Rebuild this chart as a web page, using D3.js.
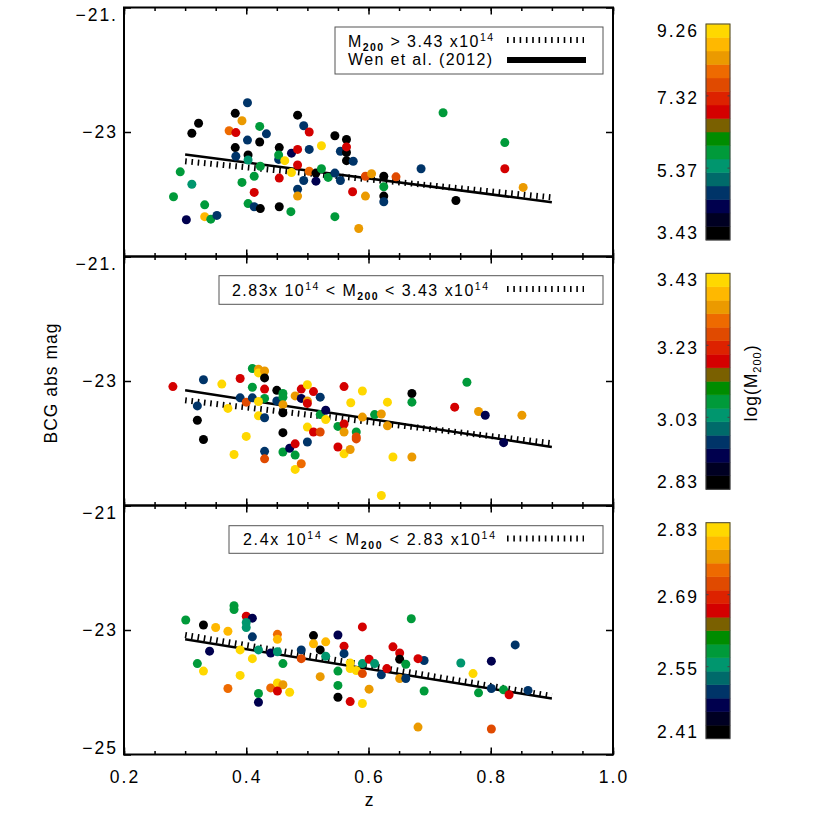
<!DOCTYPE html>
<html>
<head>
<meta charset="utf-8">
<script src="https://cdnjs.cloudflare.com/ajax/libs/d3/7.8.5/d3.min.js"></script>
<style>
  html, body { margin: 0; padding: 0; background: #fff; }
  svg { display: block; font-family: "Liberation Sans", Arial, Helvetica, sans-serif; }
</style>
</head>
<body>
<div id="chart"></div>
<script>
// ---- data ----
// top panel: M200 > 3.43
var z1 = [0.302,0.292,0.281,0.311,0.322,0.311,0.332,0.332,0.342,0.352,
          0.372,0.383,0.382,0.393,0.402,0.382,0.383,0.402,0.403,0.403,
          0.393,0.413,0.423,0.422,0.433,0.422,0.413,0.403,0.413,0.423,
          0.454,0.453,0.453,0.454,0.454,0.473,0.463,0.474,0.474,0.484,
          0.484,0.484,0.484,0.484,0.494,0.503,0.503,0.494,0.503,0.514,
          0.514,0.523,0.523,0.534,0.545,0.545,0.545,0.554,0.554,0.564,
          0.564,0.564,0.564,0.575,0.574,0.584,0.595,0.595,0.605,0.625,
          0.625,0.625,0.625,0.645,0.686,0.722,0.743,0.823,0.823,0.853];
var mag1 = [-24.41,-23.64,-24.04,-23.02,-22.86,-23.84,-24.17,-24.36,-24.40,-24.34,
            -22.98,-23.01,-22.70,-22.82,-22.53,-23.25,-23.39,-23.13,-23.37,-23.45,
            -23.81,-23.71,-23.55,-22.91,-23.03,-23.16,-23.97,-24.15,-24.20,-24.23,
            -23.25,-23.44,-23.37,-23.74,-24.20,-24.28,-23.46,-23.34,-23.65,-22.73,
            -23.28,-23.53,-23.92,-24.03,-22.90,-23.00,-23.28,-23.78,-23.63,-23.66,
            -23.79,-23.22,-23.59,-23.73,-23.06,-23.66,-24.36,-23.31,-23.78,-23.12,
            -23.33,-23.46,-23.24,-23.47,-23.96,-24.55,-23.71,-24.03,-23.67,-23.71,
            -23.88,-24.03,-24.12,-23.72,-23.59,-22.69,-24.10,-23.17,-23.59,-23.89];
var mass1 = [4.34,5.80,5.80,3.61,3.61,5.43,5.80,8.72,5.80,4.70,
             7.99,6.89,3.61,8.35,4.70,3.61,4.70,4.70,3.61,5.43,
             5.80,5.80,5.80,5.80,4.70,3.61,6.89,5.80,4.70,3.61,
             3.61,4.70,5.80,6.89,3.61,5.80,9.08,4.34,9.08,3.61,
             6.89,6.89,4.70,8.35,4.70,6.89,4.70,4.70,7.99,3.61,
             4.34,9.08,5.80,5.80,3.61,4.70,5.80,4.70,4.70,3.61,
             3.61,3.61,6.89,4.70,6.89,8.35,7.62,8.35,8.35,3.61,
             5.80,3.61,4.70,7.62,4.70,5.80,3.61,5.80,6.89,8.35];

// middle panel: 2.83 < M200 < 3.43
var z2 = [0.280,0.330,0.320,0.320,0.330,0.360,0.370,0.380,0.390,0.390,
          0.400,0.400,0.410,0.410,0.410,0.420,0.420,0.430,0.430,0.430,
          0.430,0.420,0.420,0.430,0.430,0.430,0.450,0.450,0.460,0.460,
          0.460,0.460,0.460,0.460,0.471,0.480,0.480,0.480,0.490,0.480,
          0.490,0.490,0.500,0.500,0.500,0.510,0.521,0.500,0.510,0.521,
          0.500,0.521,0.530,0.530,0.550,0.560,0.560,0.560,0.550,0.560,
          0.570,0.571,0.580,0.580,0.580,0.590,0.590,0.610,0.621,0.631,
          0.631,0.621,0.640,0.671,0.671,0.671,0.741,0.761,0.780,0.791,0.821,0.851];
var mag2 = [-23.09,-22.98,-23.40,-23.63,-23.94,-23.05,-23.44,-24.18,-22.96,-23.27,
            -23.34,-23.89,-22.80,-23.10,-23.27,-22.81,-22.87,-22.84,-22.95,-23.13,
            -23.28,-23.33,-23.56,-23.59,-24.13,-24.25,-23.15,-23.32,-23.20,-23.26,
            -23.38,-23.51,-23.83,-24.14,-24.08,-24.01,-24.19,-24.42,-24.33,-23.24,
            -23.13,-23.28,-23.06,-23.32,-23.36,-23.17,-23.26,-23.74,-23.82,-23.82,
            -23.98,-23.54,-23.47,-23.62,-23.73,-23.09,-23.69,-23.82,-24.06,-24.17,
            -24.10,-23.35,-23.82,-23.90,-23.93,-23.16,-23.58,-23.54,-23.53,-23.34,
            -23.72,-24.84,-24.22,-23.20,-23.34,-24.22,-23.42,-23.02,-23.49,-23.55,-23.99,-23.55];
var mass2 = [3.19,2.96,2.96,2.85,2.85,3.41,3.41,3.41,3.19,2.96,
             3.26,3.41,3.07,3.07,2.96,3.33,3.41,3.33,2.85,3.19,
             3.07,3.41,3.41,2.96,2.96,3.26,2.85,2.96,3.07,3.07,
             3.33,2.85,2.85,3.07,2.92,3.19,3.07,3.41,3.30,3.33,
             3.19,2.92,3.41,3.33,3.19,3.19,2.96,3.41,3.19,3.26,
             2.96,3.07,2.92,3.41,3.07,3.19,3.19,3.33,3.19,3.41,
             3.33,3.41,3.07,3.26,3.26,3.41,3.33,3.07,3.33,3.41,
             3.33,3.41,3.41,2.85,3.07,3.33,3.19,3.07,3.33,2.92,2.92,3.33];

// bottom panel: 2.4 < M200 < 2.83
var z3 = [0.301,0.330,0.320,0.330,0.340,0.350,0.370,0.370,0.380,0.380,
          0.390,0.390,0.400,0.410,0.400,0.400,0.410,0.410,0.420,0.420,
          0.420,0.440,0.440,0.451,0.451,0.451,0.451,0.460,0.451,0.460,
          0.471,0.490,0.490,0.510,0.510,0.521,0.530,0.530,0.521,0.550,
          0.560,0.560,0.550,0.550,0.550,0.570,0.570,0.580,0.570,0.590,
          0.590,0.590,0.590,0.601,0.601,0.610,0.621,0.630,0.640,0.651,
          0.651,0.651,0.661,0.661,0.670,0.691,0.681,0.691,0.681,0.751,
          0.771,0.780,0.801,0.801,0.801,0.821,0.830,0.840,0.861];
var mag3 = [-22.84,-22.92,-23.54,-23.66,-23.34,-22.96,-23.02,-23.94,-22.61,-22.67,
            -23.32,-23.73,-22.78,-22.81,-22.88,-22.96,-23.11,-23.46,-23.32,-24.02,
            -24.16,-23.37,-23.93,-23.07,-23.15,-23.35,-23.85,-23.88,-23.98,-23.54,
            -24.00,-23.32,-23.46,-23.09,-23.22,-23.32,-23.19,-23.42,-23.75,-23.08,
            -23.26,-23.38,-23.66,-23.89,-24.08,-23.53,-23.62,-23.65,-24.15,-22.95,
            -23.54,-23.70,-24.18,-23.47,-23.95,-23.54,-23.72,-23.62,-23.27,-23.37,
            -23.47,-23.78,-23.55,-23.78,-22.82,-23.49,-23.46,-23.98,-24.56,-23.53,
            -23.70,-24.01,-23.50,-23.94,-24.59,-23.96,-24.04,-23.24,-23.97];
var mass3 = [2.58,2.42,2.58,2.82,2.48,2.79,2.79,2.74,2.58,2.58,
             2.82,2.82,2.66,2.48,2.55,2.55,2.50,2.82,2.55,2.58,
             2.48,2.48,2.74,2.74,2.79,2.55,2.82,2.76,2.66,2.58,
             2.82,2.50,2.71,2.42,2.79,2.42,2.79,2.55,2.76,2.48,
             2.66,2.50,2.58,2.58,2.42,2.82,2.82,2.82,2.66,2.66,
             2.55,2.71,2.82,2.66,2.76,2.55,2.50,2.66,2.66,2.66,
             2.42,2.76,2.58,2.50,2.58,2.50,2.66,2.58,2.76,2.55,
             2.82,2.58,2.48,2.50,2.71,2.58,2.66,2.50,2.50];

// fitted relations, end points at z = 0.3 and 0.9
var fitZ = [0.3, 0.9];
var fit1 = [-23.47, -24.05], wen1 = [-23.36, -24.13];
var fit2 = [-23.31, -24.00], wen2 = [-23.15, -24.06];
var fit3 = [-23.08, -24.06], wen3 = [-23.15, -24.10];

// colour bar ranges and tick labels
var range1 = [3.43, 9.26], cbTicks1 = [3.43, 5.37, 7.32, 9.26];
var range2 = [2.83, 3.43], cbTicks2 = [2.83, 3.03, 3.23, 3.43];
var range3 = [2.41, 2.83], cbTicks3 = [2.41, 2.55, 2.69, 2.83];

// axis ticks and labels
var magTicks = [-21, -23, -25];
var magLabels1 = ["\u221221.", "\u221223", ""];
var magLabels2 = ["\u221221.", "\u221223", ""];
var magLabels3 = ["\u221221", "\u221223", "\u221225"];
var zMajor = [0.2, 0.4, 0.6, 0.8, 1.0];
var zMinor = [0.2,0.25,0.3,0.35,0.4,0.45,0.5,0.55,0.6,0.65,0.7,0.75,0.8,0.85,0.9,0.95,1.0];

// legend labels: [text, "", "sub" or "sup"]
var legend1 = [[["M",""],["200","sub"],[" > 3.43 x10",""],["14","sup"]],
               [["Wen et al. (2012)",""]]];
var legend2 = [[["2.83x 10",""],["14","sup"],[" < M",""],["200","sub"],[" < 3.43 x10",""],["14","sup"]]];
var legend3 = [[["2.4x 10",""],["14","sup"],[" < M",""],["200","sub"],[" < 2.83 x10",""],["14","sup"]]];

// 16 step colour table (bottom to top of the bar)
var bandColors = ["#000000","#000022","#00004e","#003468","#006a6a","#00966e","#009a3a","#008c00",
                  "#7a6000","#d40000","#dd2200","#e04a00","#ee6a00","#eb9a00","#ffb800","#ffd800"];

(function() {
  var panels = [
    {z: z1, mag: mag1, mass: mass1, range: range1, cb: cbTicks1, fit: fit1, wen: wen1, labels: magLabels1,
     top: 7.5, cbTop: 24, legend: legend1, box: [335, 27, 268, 47], text: [[348, 46.5, 145], [348, 65, 144]]},
    {z: z2, mag: mag2, mass: mass2, range: range2, cb: cbTicks2, fit: fit2, wen: wen2, labels: magLabels2,
     top: 256.5, cbTop: 273.3, legend: legend2, box: [219, 275.7, 384, 28.6], text: [[232, 295.5, 256]]},
    {z: z3, mag: mag3, mass: mass3, range: range3, cb: cbTicks3, fit: fit3, wen: wen3, labels: magLabels3,
     top: 505.5, cbTop: 522.7, legend: legend3, box: [229, 525.7, 374, 27.6], text: [[243, 545, 252]]}
  ];
  var panelH = 249, cbH = 216, cbX = 706, cbW = 24;

  var svg = d3.select("#chart").append("svg")
      .attr("width", 830)
      .attr("height", 830);

  var x = d3.scaleLinear().domain([0.2, 1.0]).range([124, 613]);

  function richText(g, tx, ty, len, segs) {
    var t = g.append("text")
        .attr("x", tx)
        .attr("y", ty)
        .attr("font-size", 16)
        .attr("textLength", len)
        .attr("lengthAdjust", "spacing");
    var shift = 0;
    segs.forEach(function(s) {
      var target = s[1] == "sub" ? 4 : (s[1] == "sup" ? -6 : 0);
      t.append("tspan")
          .attr("dy", target - shift)
          .attr("font-size", s[1] ? 10.5 : 16)
          .attr("font-weight", s[1] == "sub" ? "bold" : null)
          .text(s[0]);
      shift = target;
    });
  }

  panels.forEach(function(p, i) {
    var bottom = p.top + panelH;
    var y = d3.scaleLinear().domain([-21, -25]).range([p.top, bottom]);
    var color = d3.scaleQuantize().domain(p.range).range(bandColors);
    var g = svg.append("g");

    // ticks, all pointing into the frame
    function ticks(axis, tx, ty, size, values) {
      g.append("g")
          .attr("transform", "translate(" + tx + "," + ty + ")")
          .call(axis.tickValues(values).tickSize(-size).tickFormat(""))
          .call(function(a) { a.select(".domain").remove(); })
          .selectAll("line").attr("stroke-width", 1.5);
    }
    ticks(d3.axisBottom(x), 0, bottom, 3.5, zMinor);
    ticks(d3.axisBottom(x), 0, bottom, 7, zMajor);
    ticks(d3.axisTop(x), 0, p.top, 3.5, zMinor);
    ticks(d3.axisTop(x), 0, p.top, 7, zMajor);
    ticks(d3.axisLeft(y), 124, 0, 7, magTicks);
    ticks(d3.axisRight(y), 613, 0, 7, magTicks);

    g.append("rect")
        .attr("x", x(0.2))
        .attr("y", p.top)
        .attr("width", x(1.0) - x(0.2))
        .attr("height", panelH)
        .attr("fill", "none")
        .attr("stroke", "#000")
        .attr("stroke-width", 2);

    // magnitude labels, end labels pulled inside the frame
    g.selectAll(".ylab")
        .data(magTicks)
      .enter().append("text")
        .attr("x", 118)
        .attr("y", function(d) {
          var yy = Math.max(p.top + 7.5, Math.min(bottom - 6.5, y(d)));
          return yy + 6;
        })
        .attr("text-anchor", "end")
        .attr("font-size", 17.5)
        .attr("letter-spacing", 2)
        .text(function(d, k) { return p.labels[k]; });

    // fit lines
    var line = d3.line()
        .x(function(d) { return x(d[0]); })
        .y(function(d) { return y(d[1]); });
    g.append("path")
        .attr("d", line(d3.zip(fitZ, p.wen)))
        .attr("fill", "none")
        .attr("stroke", "#000")
        .attr("stroke-width", 2.5);
    g.append("path")
        .attr("d", line(d3.zip(fitZ, p.fit)))
        .attr("fill", "none")
        .attr("stroke", "#000")
        .attr("stroke-width", 6)
        .attr("stroke-dasharray", "1.6,4.7");

    // clusters
    g.selectAll("circle")
        .data(d3.range(p.z.length))
      .enter().append("circle")
        .attr("cx", function(k) { return x(p.z[k]); })
        .attr("cy", function(k) { return y(p.mag[k]); })
        .attr("r", 4.5)
        .style("fill", function(k) { return color(p.mass[k]); });

    // legend
    g.append("rect")
        .attr("x", p.box[0])
        .attr("y", p.box[1])
        .attr("width", p.box[2])
        .attr("height", p.box[3])
        .attr("fill", "#fff")
        .attr("stroke", "#555")
        .attr("stroke-width", 1);
    p.legend.forEach(function(row, r) {
      richText(g, p.text[r][0], p.text[r][1], p.text[r][2], row);
    });
    var ly = p.text[0][1] - 6.5;
    g.append("line")
        .attr("x1", 507).attr("x2", 584)
        .attr("y1", ly).attr("y2", ly)
        .attr("stroke", "#000")
        .attr("stroke-width", 6)
        .attr("stroke-dasharray", "1.6,4.7");
    if (p.legend.length > 1) {
      var ly2 = p.text[1][1] - 5;
      g.append("line")
          .attr("x1", 507).attr("x2", 586)
          .attr("y1", ly2).attr("y2", ly2)
          .attr("stroke", "#000")
          .attr("stroke-width", 6);
    }

    // colour bar
    var cy = d3.scaleLinear().domain(p.range).range([p.cbTop + cbH, p.cbTop]);
    var step = (p.range[1] - p.range[0]) / bandColors.length;
    var cb = svg.append("g");
    cb.selectAll("rect")
        .data(bandColors)
      .enter().append("rect")
        .attr("x", cbX)
        .attr("y", function(d, k) { return cy(p.range[0] + (k + 1) * step); })
        .attr("width", cbW)
        .attr("height", function(d, k) { return cy(p.range[0] + k * step) - cy(p.range[0] + (k + 1) * step); })
        .attr("fill", function(d) { return d; })
        .attr("stroke", function(d) { return d; })
        .attr("stroke-width", 0.5);
    cb.append("rect")
        .attr("x", cbX).attr("y", p.cbTop)
        .attr("width", cbW).attr("height", cbH)
        .attr("fill", "none")
        .attr("stroke", "#444")
        .attr("stroke-width", 1);
    p.cb.slice(1, -1).forEach(function(v) {
      cb.append("line").attr("x1", cbX).attr("x2", cbX + 2.5)
          .attr("y1", cy(v)).attr("y2", cy(v)).attr("stroke", "#444");
      cb.append("line").attr("x1", cbX + cbW - 2.5).attr("x2", cbX + cbW)
          .attr("y1", cy(v)).attr("y2", cy(v)).attr("stroke", "#444");
    });
    cb.selectAll("text")
        .data(p.cb)
      .enter().append("text")
        .attr("x", 699)
        .attr("y", function(d) {
          var yy = Math.max(p.cbTop + 7, Math.min(p.cbTop + cbH - 7, cy(d) + 2.5));
          return yy + 6;
        })
        .attr("text-anchor", "end")
        .attr("font-size", 17.5)
        .attr("letter-spacing", 2)
        .text(function(d) { return d.toFixed(2); });

    if (i == 2) {
      svg.selectAll(".xlab")
          .data(zMajor)
        .enter().append("text")
          .attr("x", function(d) { return x(d) + 1; })
          .attr("y", 783)
          .attr("text-anchor", "middle")
          .attr("font-size", 17.5)
          .attr("letter-spacing", 2)
          .text(d3.format(".1f"));
    }
  });

  // axis titles
  svg.append("text")
      .attr("x", 369)
      .attr("y", 806)
      .attr("text-anchor", "middle")
      .attr("font-size", 17.5)
      .text("z");
  svg.append("text")
      .attr("transform", "translate(57,383) rotate(-90)")
      .attr("text-anchor", "middle")
      .attr("font-size", 17.5)
      .attr("letter-spacing", 1)
      .text("BCG abs mag");
  var lt = svg.append("text")
      .attr("transform", "translate(757,383) rotate(-90)")
      .attr("text-anchor", "middle")
      .attr("font-size", 17.5)
      .attr("letter-spacing", 1);
  lt.append("tspan").text("log(M");
  lt.append("tspan").attr("dy", 4).attr("font-size", 11).text("200");
  lt.append("tspan").attr("dy", -4).text(")");
})();
</script>
</body>
</html>
